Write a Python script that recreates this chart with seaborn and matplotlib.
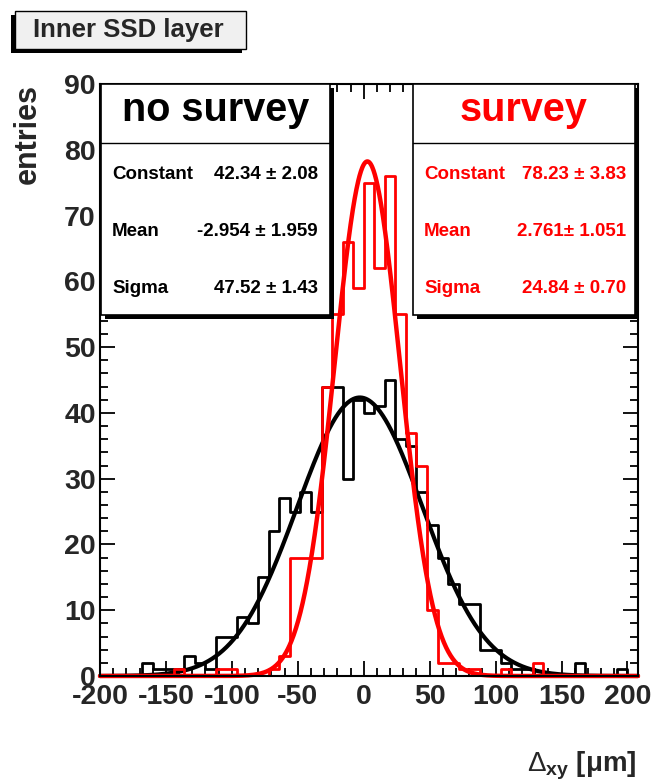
import numpy as np
import pandas as pd
import matplotlib
matplotlib.use("Agg")
import matplotlib.pyplot as plt
from matplotlib.patches import Rectangle
from matplotlib.lines import Line2D
from matplotlib.ticker import MultipleLocator
import seaborn as sns

# 51 bins of 8 um from -200 to 208 um
n_bins = 51
x_range = (-200, 208)
bin_edges = np.linspace(x_range[0], x_range[1], n_bins + 1)
bin_centers = (bin_edges[:-1] + bin_edges[1:]) / 2

no_survey_counts = [0, 0, 0, 0, 2, 1, 1, 1, 3, 2,
                    1, 6, 6, 9, 8, 15, 22, 27, 25, 28,
                    25, 44, 44, 30, 42, 40, 41, 45, 36, 35,
                    28, 23, 18, 14, 11, 11, 4, 4, 2, 1,
                    1, 0, 0, 0, 0, 2, 0, 0, 0, 1,
                    0]
survey_counts = [0, 0, 0, 0, 0, 0, 0, 1, 0, 0,
                 0, 1, 1, 0, 0, 0, 1, 3, 18, 18,
                 18, 44, 55, 66, 59, 75, 62, 76, 55, 37,
                 32, 10, 2, 2, 1, 1, 0, 0, 1, 0,
                 0, 2, 0, 0, 0, 0, 0, 0, 0, 0,
                 0]

# Gaussian fit results: constant, mean, sigma
fit_names = ["Constant", "Mean", "Sigma"]
no_survey_fit = [42.34, -2.954, 47.52]
no_survey_fit_text = ["42.34 \u00b1 2.08", "-2.954 \u00b1 1.959", "47.52 \u00b1 1.43"]
survey_fit = [78.23, 2.761, 24.84]
survey_fit_text = ["78.23 \u00b1 3.83", "2.761\u00b1 1.051", "24.84 \u00b1 0.70"]

x_ticks = [-200, -150, -100, -50, 0, 50, 100, 150, 200]
y_ticks = [0, 10, 20, 30, 40, 50, 60, 70, 80, 90]

W, H = 653, 782
sns.set_style("ticks")
plt.rcParams["font.family"] = ["Liberation Sans", "DejaVu Sans"]
plt.rcParams["axes.unicode_minus"] = False
plt.rcParams["mathtext.fontset"] = "custom"
plt.rcParams["mathtext.rm"] = "Liberation Sans"
plt.rcParams["mathtext.it"] = "Liberation Sans:bold"
plt.rcParams["mathtext.bf"] = "Liberation Sans:bold"

fig = plt.figure(figsize=(W / 100, H / 100), dpi=100)
fig.patch.set_facecolor("white")


def fx(px):
    return px / W


def fy(py):
    return 1 - py / H


ax = fig.add_axes([fx(100), fy(676), fx(638) - fx(100), fy(84) - fy(676)])
ax.set_facecolor("white")


def gauss(x, const, mean, sigma):
    return const * np.exp(-0.5 * ((x - mean) / sigma) ** 2)


hist_df = pd.DataFrame({
    "dxy": bin_centers,
    "no_survey": np.asarray(no_survey_counts, dtype=float),
    "survey": np.asarray(survey_counts, dtype=float),
})
xs = np.linspace(x_range[0], x_range[1], 1201)
fit_df = pd.DataFrame({
    "dxy": xs,
    "no_survey": gauss(xs, *no_survey_fit),
    "survey": gauss(xs, *survey_fit),
})

sns.histplot(data=hist_df, x="dxy", weights="no_survey", bins=n_bins,
             binrange=x_range, element="step", fill=False, color="black",
             linewidth=2.0, ax=ax)
sns.lineplot(data=fit_df, x="dxy", y="no_survey", color="black",
             linewidth=3.0, ax=ax)
ax.lines[-1].set_clip_on(False)

sns.histplot(data=hist_df, x="dxy", weights="survey", bins=n_bins,
             binrange=x_range, element="step", fill=False, color="#ff0000",
             linewidth=2.0, ax=ax)
sns.lineplot(data=fit_df, x="dxy", y="survey", color="#ff0000",
             linewidth=3.2, ax=ax)
ax.lines[-1].set_clip_on(False)

ax.set_xlim(*x_range)
ax.set_ylim(0, 90)
ax.set_xticks(x_ticks)
ax.set_yticks(y_ticks)
ax.xaxis.set_minor_locator(MultipleLocator(10))
ax.yaxis.set_minor_locator(MultipleLocator(2))
ax.tick_params(which="both", direction="in", top=True, right=True,
               color="black", width=1.3)
ax.tick_params(which="major", length=11, labelsize=20.5)
ax.tick_params(which="minor", length=6)
ax.tick_params(axis="x", pad=6)
ax.tick_params(axis="y", pad=3)
for lab in ax.get_xticklabels() + ax.get_yticklabels():
    lab.set_fontweight("bold")
ax.set_xlabel("")
ax.set_ylabel("")
for sp in ax.spines.values():
    sp.set_linewidth(1.5)
    sp.set_color("black")

# axis titles
fig.text(fx(28), fy(84), "entries", rotation=90, ha="center", va="top",
         fontsize=22, fontweight="bold")
fig.text(fx(637), fy(772), r"$\Delta_{xy}$ [$\mu$m]", ha="right",
         va="baseline", fontsize=20, fontweight="bold")


def stat_box(x0, y0, x1, y1, head_y, title, values, color, lab_x, val_x):
    sh = 4
    fig.add_artist(Rectangle((fx(x0 + sh), fy(y1 + sh)), fx(x1) - fx(x0),
                             fy(y0) - fy(y1), transform=fig.transFigure,
                             facecolor="black", edgecolor="none", zorder=5))
    fig.add_artist(Rectangle((fx(x0), fy(y1)), fx(x1) - fx(x0),
                             fy(y0) - fy(y1), transform=fig.transFigure,
                             facecolor="white", edgecolor="black",
                             linewidth=1.2, zorder=6))
    fig.add_artist(Line2D([fx(x0), fx(x1)], [fy(head_y), fy(head_y)],
                          transform=fig.transFigure, color="black",
                          linewidth=1.0, zorder=7))
    fig.text(fx((x0 + x1) / 2), fy(121), title, ha="center", va="baseline",
             fontsize=28.5, fontweight="bold", color=color, zorder=8)
    for name, val, base in zip(fit_names, values, [179, 236, 293]):
        fig.text(fx(lab_x), fy(base), name, ha="left", va="baseline",
                 fontsize=13.5, fontweight="bold", color=color, zorder=8)
        fig.text(fx(val_x), fy(base), val, ha="right", va="baseline",
                 fontsize=13.5, fontweight="bold", color=color, zorder=8)


stat_box(101, 84, 330, 315, 143, "no survey", no_survey_fit_text, "black",
         112, 318)
stat_box(413, 84, 635, 315, 143, "survey", survey_fit_text, "#ff0000",
         424, 626)

# title box with shadow on the lower left
fig.add_artist(Rectangle((fx(11), fy(53)), fx(246) - fx(15), fy(11) - fy(49),
                         transform=fig.transFigure, facecolor="black",
                         edgecolor="none", zorder=5))
fig.add_artist(Rectangle((fx(15), fy(49)), fx(246) - fx(15), fy(11) - fy(49),
                         transform=fig.transFigure, facecolor="#f0f0f0",
                         edgecolor="black", linewidth=1.0, zorder=6))
fig.text(fx(128), fy(37), "Inner SSD layer", ha="center", va="baseline",
         fontsize=18.5, fontweight="bold", zorder=8)

fig.savefig("out.png", dpi=100, facecolor="white")
